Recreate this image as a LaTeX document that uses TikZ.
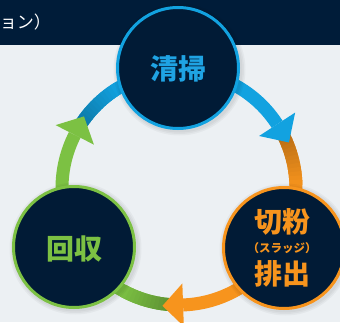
\documentclass[tikz,border=0pt]{standalone}
\usepackage{fontspec}
\newfontfamily\cjk{Noto Sans CJK JP}
\usetikzlibrary{calc}
\definecolor{navy}{HTML}{001C39}
\definecolor{bgc}{HTML}{ECF0F3}
\definecolor{cblue}{HTML}{12A2E0}
\definecolor{tblue}{HTML}{1FA3E3}
\definecolor{corange}{HTML}{F7941D}
\definecolor{cgreen}{HTML}{7CC143}
\definecolor{cnavy}{HTML}{011B36}
\tikzset{
  ringband/.style={line width=13pt},
  stepcircle/.style={circle, draw=#1, line width=3pt, fill=cnavy, minimum size=121pt, inner sep=0pt},
  bigtxt/.style={font=\cjk\bfseries\fontsize{28}{30}\selectfont, text=#1},
  shadowfill/.style={fill=black, opacity=0.035},
}
\newcommand\ringarc[3]{%
  \draw[ringband,draw=#1] ([shift={(179,134)}]#2:117) arc[start angle=#2,end angle=#3,radius=117];}
\newcommand\darkstart[2]{%
  \foreach \ii in {0,...,11}{%
    \pgfmathsetmacro\pct{76+\ii*2}%
    \pgfmathsetmacro\angA{#2-\ii*2}%
    \pgfmathsetmacro\angB{#2-\ii*2-2.6}%
    \draw[ringband,draw=#1!\pct!black] ([shift={(179,134)}]\angA:117) arc[start angle=\angA,end angle=\angB,radius=117];
  }}
\newcommand\arrowhd[3]{%
  \fill[#1] ([shift={(179,134)}]#2:95.5) -- ([shift={(179,134)}]#2:138.5) -- ([shift={(179,134)}]#3:119) -- cycle;}
\newcommand\softshadow[1]{%
  \foreach \rr in {63,64.5,66}{\fill[shadowfill] ([shift={(1.5,-1.5)}]#1) circle[radius=\rr];}}
\begin{document}
\begin{tikzpicture}[x=1pt,y=1pt]
\useasboundingbox (0,0) rectangle (340,322);
\clip (0,0) rectangle (340,322);
\fill[bgc] (0,0) rectangle (340,322);
\fill[navy] (0,277) rectangle (340,322);
\node[anchor=base east, text=white, font=\cjk\fontsize{17}{17}\selectfont, inner sep=0pt] (hdr) at (51,293) {ョン）};
% ring arcs
\ringarc{cblue}{146}{33}
\ringarc{corange}{26}{-88}
\ringarc{cgreen}{-94}{-207}
\darkstart{cblue}{146}
\darkstart{corange}{26}
\darkstart{cgreen}{-94}
% arrowheads
\arrowhd{cblue}{33}{22.5}
\arrowhd{corange}{-88}{-98}
\arrowhd{cgreen}{153}{143}
% circle shadows
\softshadow{178,254}
\softshadow{284,74}
\softshadow{74,75}
% circles
\node[stepcircle=cblue] (T) at (178,254) {};
\node[stepcircle=corange] (R) at (284,74) {};
\node[stepcircle=cgreen] (L) at (74,75) {};
\node[bigtxt=tblue] (tt) at ([yshift=-1pt]T.center) {清掃};
\node[bigtxt=cgreen] (lt) at ([yshift=-2pt]L.center) {回収};
\node[bigtxt=corange] (r1) at ([xshift=-2pt,yshift=26pt]R.center) {切粉};
\node[font=\cjk\bfseries\fontsize{11.5}{12}\selectfont, text=corange] (r2) at ([xshift=-2pt]R.center) {（スラッジ）};
\node[bigtxt=corange] (r3) at ([xshift=-2pt,yshift=-26pt]R.center) {排出};
\end{tikzpicture}
\end{document}
